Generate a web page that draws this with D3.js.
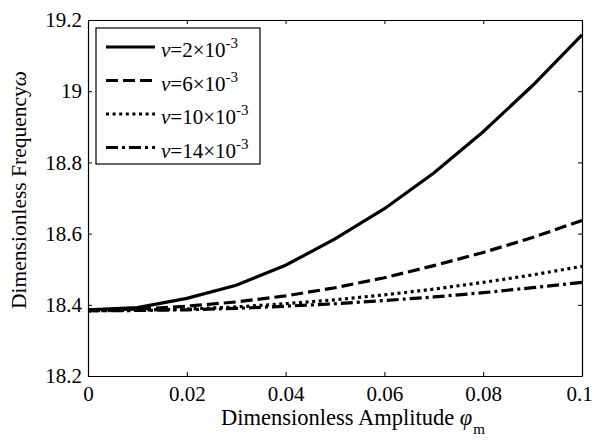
<!DOCTYPE html>
<html>
<head>
    <meta charset="UTF-8">
    <title>Dimensionless Frequency vs Amplitude</title>
    <script src="https://d3js.org/d3.v7.min.js"></script>
    <style>
        body { margin: 0; background: #fff; }
        svg, svg text { font-family: "Liberation Serif", "Times New Roman", serif; }
    </style>
</head>
<body>
    <svg></svg>
    <script>
        // values
        const amplitude = [0, 0.01, 0.02, 0.03, 0.04, 0.05, 0.06, 0.07, 0.08, 0.09, 0.1];
        const v2  = [18.386, 18.392, 18.418, 18.455, 18.511, 18.585, 18.670, 18.770, 18.886, 19.016, 19.158];
        const v6  = [18.385, 18.388, 18.396, 18.408, 18.425, 18.448, 18.476, 18.510, 18.547, 18.589, 18.637];
        const v10 = [18.383, 18.385, 18.388, 18.394, 18.403, 18.414, 18.428, 18.444, 18.463, 18.484, 18.508];
        const v14 = [18.383, 18.384, 18.386, 18.390, 18.396, 18.403, 18.412, 18.422, 18.434, 18.448, 18.463];
        const seriesNames = ['2', '6', '10', '14'];
        const xTicks = [0, 0.02, 0.04, 0.06, 0.08, 0.1];
        const yTicks = [18.2, 18.4, 18.6, 18.8, 19, 19.2];

        const series = [v2, v6, v10, v14].map((vals, i) => ({
            name: seriesNames[i],
            values: amplitude.map((a, j) => ({ x: a, y: vals[j] }))
        }));
        const dashes = ['none', '12,5', '3,3.6', '12,4,3,4'];

        const W = 594, H = 442;
        const margin = { top: 20, right: 12, bottom: 66, left: 88 };
        const width = W - margin.left - margin.right;
        const height = H - margin.top - margin.bottom;

        const svg = d3.select('svg')
            .attr('width', W)
            .attr('height', H);

        const g = svg.append('g')
            .attr('transform', `translate(${margin.left},${margin.top})`);

        const x = d3.scaleLinear().domain([0, 0.1]).range([0, width]);
        const y = d3.scaleLinear().domain([18.2, 19.2]).range([height, 0]);

        const fmtX = d => d === 0 ? '0' : d3.format('~g')(d);
        const fmtY = d => d3.format('~g')(d);

        // axes with inward ticks, box on all sides
        const tick = 4;
        const axB = g.append('g').attr('transform', `translate(0,${height})`)
            .call(d3.axisBottom(x).tickValues(xTicks).tickFormat(fmtX).tickSizeInner(-tick).tickSizeOuter(0).tickPadding(10));
        const axT = g.append('g')
            .call(d3.axisTop(x).tickValues(xTicks).tickFormat('').tickSizeInner(-tick).tickSizeOuter(0));
        const axL = g.append('g')
            .call(d3.axisLeft(y).tickValues(yTicks).tickFormat(fmtY).tickSizeInner(-tick).tickSizeOuter(0).tickPadding(6));
        const axR = g.append('g').attr('transform', `translate(${width},0)`)
            .call(d3.axisRight(y).tickValues(yTicks).tickFormat('').tickSizeInner(-tick).tickSizeOuter(0));

        [axB, axT, axL, axR].forEach(a => {
            a.attr('font-family', null);
            a.select('.domain').attr('stroke', '#000').attr('stroke-width', 1.2);
            a.selectAll('.tick line').attr('stroke', '#000');
            a.selectAll('text')
                .style('font-family', '"Liberation Serif", "Times New Roman", serif')
                .attr('font-size', 21).attr('fill', '#000');
        });
        // last x label sits at the right edge, nudge it in a little
        axB.selectAll('.tick text').filter(d => d === 0.1).attr('dx', -3);

        const line = d3.line().x(d => x(d.x)).y(d => y(d.y));

        g.selectAll('.series')
            .data(series)
            .enter().append('path')
            .attr('class', 'series')
            .attr('d', d => line(d.values))
            .attr('fill', 'none')
            .attr('stroke', '#000')
            .attr('stroke-width', 3.2)
            .attr('stroke-dasharray', (d, i) => dashes[i]);

        // legend
        const lg = g.append('g').attr('transform', 'translate(8,8)');
        lg.append('rect')
            .attr('width', 164).attr('height', 136)
            .attr('fill', '#fff').attr('stroke', '#000').attr('stroke-width', 1.2);

        const item = lg.selectAll('.item')
            .data(series)
            .enter().append('g')
            .attr('class', 'item')
            .attr('transform', (d, i) => `translate(0,${19 + i * 33.5})`);

        item.append('line')
            .attr('x1', 10).attr('x2', 59)
            .attr('stroke', '#000').attr('stroke-width', 3.2)
            .attr('stroke-dasharray', (d, i) => dashes[i]);

        const t = item.append('text')
            .attr('x', 65).attr('y', 10)
            .attr('font-size', 21);
        t.append('tspan').attr('font-style', 'italic').text('v');
        t.append('tspan').text(d => `=${d.name}×10`);
        t.append('tspan').attr('font-size', 15).attr('dy', -9).text('-3');

        // axis titles
        const xl = svg.append('text')
            .attr('x', 221).attr('y', 425)
            .attr('font-size', 22.5);
        xl.append('tspan').text('Dimensionless Amplitude ');
        xl.append('tspan').attr('font-style', 'italic').text('φ');
        xl.append('tspan').attr('font-size', 15).attr('dy', 9).attr('dx', 1).text('m');

        const yl = svg.append('text')
            .attr('transform', 'translate(26,190) rotate(-90)')
            .attr('text-anchor', 'middle')
            .attr('font-size', 21.5);
        yl.append('tspan').text('Dimensionless Frequency');
        yl.append('tspan').attr('font-style', 'italic').text('ω');
    </script>
</body>
</html>
